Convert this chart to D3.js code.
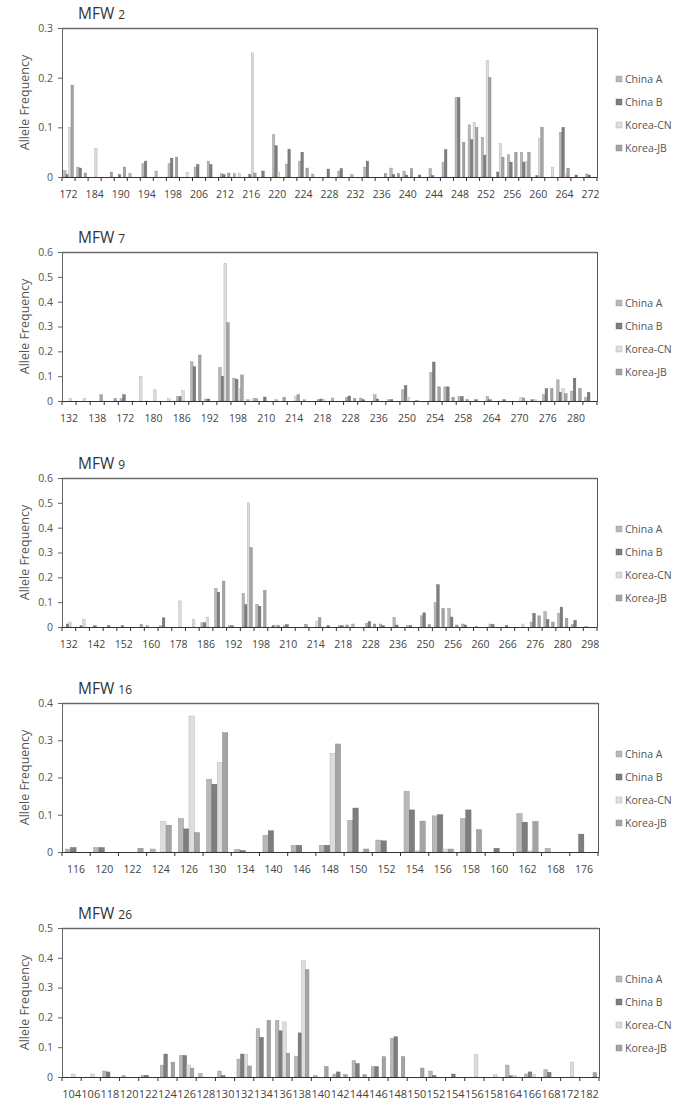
<!DOCTYPE html>
<html><head><meta charset="utf-8">
<script src="https://cdn.jsdelivr.net/npm/d3@7"></script>
<style>body{margin:0;background:#fff}svg{display:block}text{font-family:"Open Sans",sans-serif}</style>
</head><body><svg id="c" width="692" height="1112"></svg>
<script>
const seriesNames = ["China A", "China B", "Korea-CN", "Korea-JB"];

// MFW 2
const mfw2Alleles = [172,176,184,188,190,192,194,196,198,202,206,210,212,214,216,218,220,222,224,226,228,230,232,234,236,238,240,242,244,246,248,250,252,254,256,258,260,262,264,268,272];
const mfw2ChinaA  = [.013,.02,0,0,0,.007,.027,.012,.027,0,.02,.032,.007,.007,0,0,.085,.026,.032,.006,0,.012,.005,.02,0,.018,.012,0,.017,.03,.16,.105,.08,0,.045,.05,0,0,.09,0,.006];
const mfw2ChinaB  = [.005,.018,0,0,.005,0,.032,0,.038,0,.025,.025,.005,0,.005,.012,.063,.056,.05,0,.016,.017,0,.032,0,.005,.004,.004,.003,.055,.16,.075,.044,.01,.03,.03,.003,0,.1,.004,.004];
const mfw2KoreaCN = [.1,0,.058,0,0,0,0,0,0,.01,0,0,0,.008,.25,0,.01,0,0,0,0,0,0,0,0,0,0,0,0,0,0,.11,.235,.067,0,.032,.078,.02,.005,0,0];
const mfw2KoreaJB = [.185,.008,0,.01,.02,0,0,0,.04,0,0,0,.008,0,.008,0,0,0,.018,0,0,0,0,0,.007,.007,.017,0,0,0,.07,.1,.2,.04,.05,.05,.1,0,.018,0,0];

// MFW 7
const mfw7Alleles = [132,136,138,170,172,178,180,184,186,190,192,194,198,206,210,212,214,216,218,226,228,234,236,248,250,252,254,256,258,262,264,268,270,274,276,278,280,282];
const mfw7ChinaA  = [0,0,0,0,.01,0,0,0,.018,.158,.008,.135,.092,.005,0,.005,0,.005,.005,.012,.015,.012,.025,.005,.045,.003,.115,.057,.018,0,.018,0,0,0,.025,.085,.04,.015];
const mfw7ChinaB  = [0,0,0,0,.025,0,0,0,.018,.138,.008,.1,.088,0,.016,0,0,0,.008,0,.02,.005,.008,.005,.062,0,.157,.057,.018,.005,.005,.005,0,.005,.05,.035,.092,.035];
const mfw7KoreaCN = [.01,.01,0,0,0,.1,.045,.01,.042,0,0,.555,.05,.01,0,0,.02,0,.005,0,0,0,0,0,.015,0,0,0,0,0,0,0,.015,.005,0,.05,0,0];
const mfw7KoreaJB = [0,0,.025,.01,0,0,0,0,0,.185,0,.315,.105,.01,0,.015,.025,0,0,0,.01,0,0,0,0,0,.057,.015,.006,0,0,0,.012,0,.05,.03,.05,0];

// MFW 9
const mfw9Alleles = [132,138,142,146,152,156,160,172,178,180,186,188,192,194,198,206,210,212,214,216,218,226,228,232,236,248,250,254,256,258,260,264,266,270,276,278,280,284,298];
const mfw9ChinaA  = [0,0,0,0,0,0,.005,.005,0,0,.017,.155,.005,.135,.092,0,.005,0,0,0,.005,.012,.015,.012,.038,.005,.045,.098,.075,.012,.003,.012,0,0,.02,.062,.055,.01,.003];
const mfw9ChinaB  = [.012,.005,.005,.005,.005,0,0,.037,0,0,.017,.14,.005,.09,.083,.005,.01,0,0,.005,.005,0,.022,.005,.008,.005,.057,.17,.04,.008,0,.01,.005,0,.055,.03,.08,.027,0];
const mfw9KoreaCN = [.02,.03,0,0,0,0,0,0,.105,.03,.04,0,0,.5,0,.008,0,0,.022,0,0,0,0,0,0,0,0,0,0,0,0,0,0,.012,0,0,0,0,0];
const mfw9KoreaJB = [0,0,0,0,0,.01,0,0,0,0,0,.185,0,.32,.148,.005,0,.01,.038,0,.008,0,.012,0,0,0,.01,.075,.008,0,0,0,0,0,.045,.02,.035,0,0];

// MFW 16
const mfw16Alleles = [116,120,122,124,126,130,134,140,146,148,150,152,154,156,158,160,162,168,176];
const mfw16ChinaA  = [.008,.012,0,.008,.09,.195,.007,.045,.018,.018,.085,.032,.163,.097,.09,0,.103,.01,0];
const mfw16ChinaB  = [.012,.012,0,0,.062,.182,.004,.057,.018,.018,.118,.03,.113,.1,.113,.01,.08,0,.048];
const mfw16KoreaCN = [0,0,0,.082,.365,.24,0,0,0,.265,0,0,.003,.008,0,0,.003,0,0];
const mfw16KoreaJB = [0,0,.01,.072,.052,.32,0,0,0,.29,.008,0,.083,.008,.06,0,.082,0,0];

// MFW 26
const mfw26Alleles = [104,106,118,120,122,124,126,128,130,132,134,136,138,140,142,144,146,148,150,152,154,156,158,164,166,168,172,182];
const mfw26ChinaA  = [0,0,.02,.005,.005,.04,.072,.012,.02,.06,.162,.19,.07,.005,.01,.055,.035,.13,0,.02,0,0,0,.04,.01,.025,0,0];
const mfw26ChinaB  = [0,0,.017,0,.006,.077,.072,0,.005,.077,.133,.155,.148,0,.017,.045,.035,.135,0,.005,.01,0,0,.004,.017,.016,0,0];
const mfw26KoreaCN = [.01,.01,0,0,0,0,.04,0,0,.075,0,.185,.39,0,0,0,0,0,0,0,0,.075,.008,.005,.008,0,.05,0];
const mfw26KoreaJB = [0,0,0,0,0,.05,.03,0,0,.037,.19,.08,.36,.035,.008,.008,.068,.068,.03,0,0,0,0,0,0,0,0,.015];

const panelNames = ["2", "7", "9", "16", "26"];
const yMaxes = [0.3, 0.6, 0.6, 0.4, 0.5];
const labelSteps = [2, 2, 2, 1, 1];

const panels = [
  {alleles: mfw2Alleles,  values: [mfw2ChinaA, mfw2ChinaB, mfw2KoreaCN, mfw2KoreaJB]},
  {alleles: mfw7Alleles,  values: [mfw7ChinaA, mfw7ChinaB, mfw7KoreaCN, mfw7KoreaJB]},
  {alleles: mfw9Alleles,  values: [mfw9ChinaA, mfw9ChinaB, mfw9KoreaCN, mfw9KoreaJB]},
  {alleles: mfw16Alleles, values: [mfw16ChinaA, mfw16ChinaB, mfw16KoreaCN, mfw16KoreaJB]},
  {alleles: mfw26Alleles, values: [mfw26ChinaA, mfw26ChinaB, mfw26KoreaCN, mfw26KoreaJB]}
];

const colors = ["#b8b8b8", "#7e7e7e", "#dddddd", "#a4a4a4"];
const tops = [28, 252, 478, 703, 928];
const rights = [597, 597, 597, 598, 599];
const plotH = 149;
const left = 62;

const svg = d3.select("#c");

panels.forEach((p, k) => {
  const top = tops[k], bottom = top + plotH, right = rights[k];
  const n = p.alleles.length;
  const g = svg.append("g");

  const x = d3.scaleBand().domain(d3.range(n)).range([left, right]).padding(0);
  const x1 = d3.scaleBand().domain(d3.range(4)).range([0, x.bandwidth()]).paddingInner(0).paddingOuter(0.65);
  const y = d3.scaleLinear().domain([0, yMaxes[k]]).range([bottom, top]);

  // frame
  g.append("line").attr("x1", left).attr("x2", right).attr("y1", top + 0.5).attr("y2", top + 0.5)
    .attr("stroke", "#6a6a6a").attr("stroke-width", 1.3);
  g.append("line").attr("x1", right + 0.5).attr("x2", right + 0.5).attr("y1", top).attr("y2", bottom)
    .attr("stroke", "#555").attr("stroke-width", 1);

  // bars
  p.values.forEach((vals, s) => {
    const pts = vals.map((v, i) => ({v, i})).filter(d => d.v > 0);
    g.append("g").selectAll("rect").data(pts).join("rect")
      .attr("x", d => x(d.i) + x1(s))
      .attr("y", d => y(d.v))
      .attr("width", x1.bandwidth())
      .attr("height", d => bottom - y(d.v))
      .attr("fill", colors[s])
      .attr("stroke", d3.color(colors[s]).darker(0.7))
      .attr("stroke-width", 0.4);
  });

  // y axis
  const yAxis = d3.axisLeft(y).tickValues(d3.range(0, yMaxes[k] + 1e-9, 0.1))
    .tickSize(4).tickFormat(d => d < 1e-9 ? "0" : d3.format(".1f")(d));
  const ya = g.append("g").attr("transform", `translate(${left},0)`).call(yAxis);
  ya.select(".domain").attr("stroke", "#666");
  ya.selectAll(".tick line").attr("stroke", "#666");
  ya.selectAll(".tick text").attr("fill", "#555").attr("font-size", 10.5).attr("x", -9)
    .attr("font-family", '"Open Sans",sans-serif');

  // x axis
  const step = labelSteps[k];
  const xAxis = d3.axisBottom(x).tickSize(0).tickFormat(i => (i % step === 0) ? p.alleles[i] : "");
  const xa = g.append("g").attr("transform", `translate(0,${bottom})`).call(xAxis);
  xa.select(".domain").attr("stroke", "#333");
  xa.selectAll(".tick text").attr("fill", "#444").attr("font-size", k === 4 ? 11 : 10.5).attr("y", 13.5)
    .attr("font-family", '"Open Sans",sans-serif');
  // category boundary ticks
  g.append("g").selectAll("line").data(d3.range(n + 1)).join("line")
    .attr("x1", i => i < n ? x(i) : right).attr("x2", i => i < n ? x(i) : right)
    .attr("y1", bottom).attr("y2", bottom + 4).attr("stroke", "#333").attr("stroke-width", 1);

  // y title
  g.append("text").attr("transform", `translate(29,${(top + bottom) / 2}) rotate(-90)`)
    .attr("text-anchor", "middle").attr("font-size", 12.5).attr("fill", "#555").text("Allele Frequency");

  // panel title
  const t = g.append("text").attr("x", 78).attr("y", top - 9).attr("fill", "#333");
  t.append("tspan").attr("font-size", 15.5).text("MFW ");
  t.append("tspan").attr("font-size", 12).text(panelNames[k]);

  // legend
  seriesNames.forEach((name, s) => {
    const cy = top + 51 + s * 23;
    g.append("rect").attr("x", 616).attr("y", cy - 3).attr("width", 6).attr("height", 6)
      .attr("fill", colors[s]).attr("stroke", d3.color(colors[s]).darker(0.7)).attr("stroke-width", 0.4);
    g.append("text").attr("x", 625).attr("y", cy + 4).attr("font-size", 10.5).attr("fill", "#555").text(name);
  });
});
</script></body></html>
